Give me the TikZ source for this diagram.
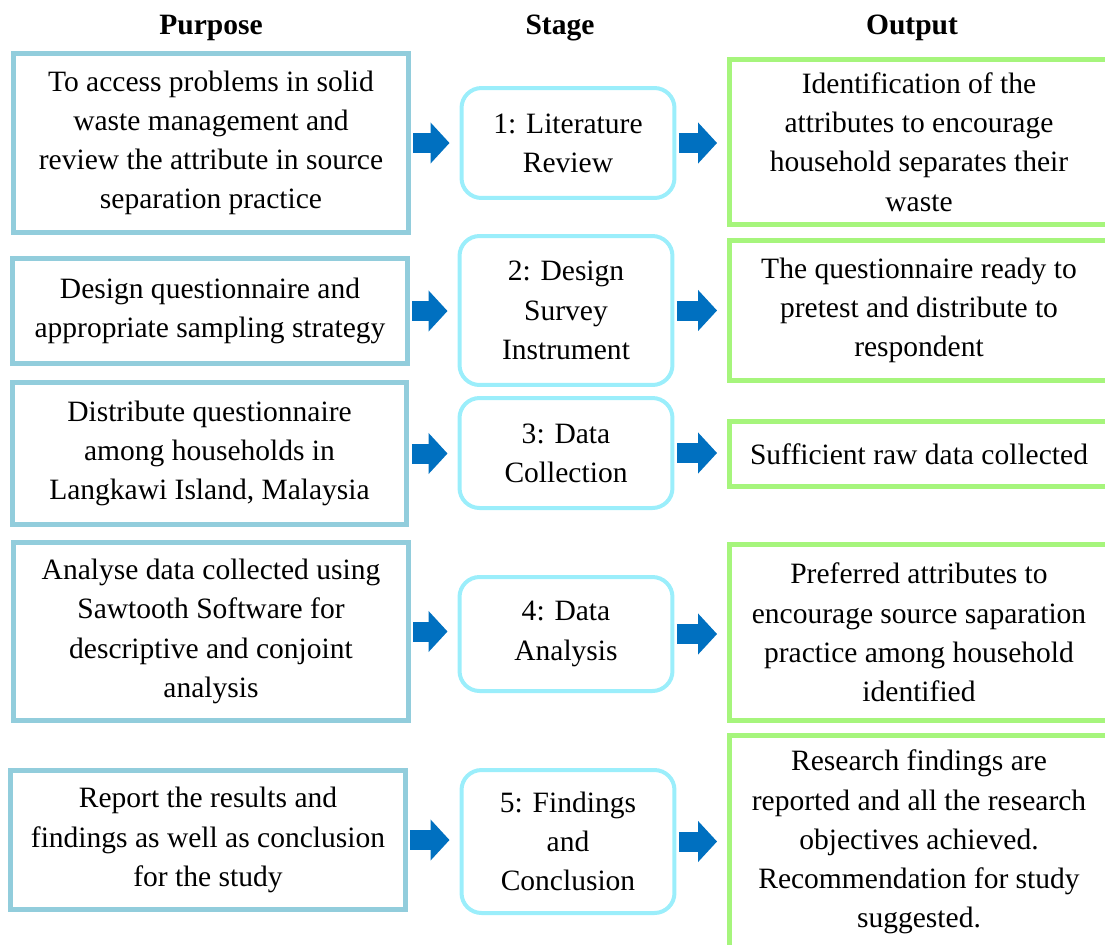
\documentclass[tikz,border=0pt]{standalone}
\usepackage{fontspec}
\setmainfont{Liberation Serif}
\usetikzlibrary{arrows.meta}
\definecolor{PurposeBlue}{HTML}{92CDDC}
\definecolor{StageCyan}{HTML}{9BEEFB}
\definecolor{OutputGreen}{HTML}{A6F57C}
\definecolor{ArrowBlue}{HTML}{0070C0}

\begin{document}
\begin{tikzpicture}[x=0.02cm, y=-0.02cm,
  txt/.style={font=\fontsize{16.8}{22.3}\selectfont, align=center, inner sep=0pt},
  head/.style={font=\fontsize{16.8}{22.3}\selectfont\bfseries, anchor=base},
  purposebox/.style={txt, draw=PurposeBlue, line width=0.1cm, minimum width=7.9cm},
  stagebox/.style={txt, draw=StageCyan, line width=0.08cm, rounded corners=0.4cm,
                   minimum width=4.26cm},
  outputbox/.style={txt, draw=OutputGreen, line width=0.1cm, minimum width=7.58cm},
  flow/.style={ArrowBlue, line width=0.4cm, -{Triangle[length=0.38cm, width=0.8cm]},
               shorten <=0.05cm, shorten >=0.2cm}]
  \useasboundingbox (0,0) rectangle (1105,944);

  % column titles
  \node[head] (hpurpose) at (211,34) {Purpose};
  \node[head] (hstage) at (560,34) {Stage};
  \node[head] (houtput) at (912,34) {Output};

  % purpose column
  \node[purposebox, minimum height=3.58cm] (p1) at (211,143)
    {To access problems in solid\\waste management and\\review the attribute in source\\separation practice};
  \node[purposebox, minimum height=2.1cm] (p2) at (210,311)
    {Design questionnaire and\\appropriate sampling strategy};
  \node[purposebox, minimum height=2.84cm] (p3) at (209.5,453.5)
    {Distribute questionnaire\\among households in\\Langkawi Island, Malaysia};
  \node[purposebox, minimum height=3.56cm] (p4) at (211,631.5)
    {Analyse data collected using\\Sawtooth Software for\\descriptive and conjoint\\analysis};
  \node[purposebox, minimum height=2.78cm] (p5) at (208,840)
    {Report the results and\\findings as well as conclusion\\for the study};

  % stage column
  \node[stagebox, minimum height=2.2cm] (s1) at (568,143) {1: Literature\\Review};
  \node[stagebox, minimum height=2.98cm] (s2) at (566,310.5) {2: Design\\Survey\\Instrument};
  \node[stagebox, minimum height=2.2cm] (s3) at (566,453) {3: Data\\Collection};
  \node[stagebox, minimum height=2.28cm] (s4) at (566,634) {4: Data\\Analysis};
  \node[stagebox, minimum height=2.86cm] (s5) at (568,841.5) {5: Findings\\and\\Conclusion};

  % output column
  \node[outputbox, minimum height=3.3cm] (o1) at (919,142)
    {Identification of the\\attributes to encourage\\household separates their\\waste};
  \node[outputbox, minimum height=2.8cm] (o2) at (919,310.5)
    {The questionnaire ready to\\pretest and distribute to\\respondent};
  \node[outputbox, minimum height=1.3cm] (o3) at (919,454)
    {Sufficient raw data collected};
  \node[outputbox, minimum height=3.52cm] (o4) at (919,632.5)
    {Preferred attributes to\\encourage source saparation\\practice among household\\identified};
  \node[outputbox, minimum height=4.26cm] (o5) at (919,842)
    {Research findings are\\reported and all the research\\objectives achieved.\\Recommendation for study\\suggested.};

  % block arrows
  \draw[flow] (p1.east) -- (p1.east -| s1.west);
  \draw[flow] (p2.east) -- (p2.east -| s2.west);
  \draw[flow] (p3.east) -- (p3.east -| s3.west);
  \draw[flow] (p4.east) -- (p4.east -| s4.west);
  \draw[flow] (p5.east) -- (p5.east -| s5.west);
  \draw[flow] (s1.east) -- (s1.east -| o1.west);
  \draw[flow] (s2.east) -- (s2.east -| o2.west);
  \draw[flow] (s3.east) -- (s3.east -| o3.west);
  \draw[flow] (s4.east) -- (s4.east -| o4.west);
  \draw[flow] (s5.east) -- (s5.east -| o5.west);
\end{tikzpicture}
\end{document}
